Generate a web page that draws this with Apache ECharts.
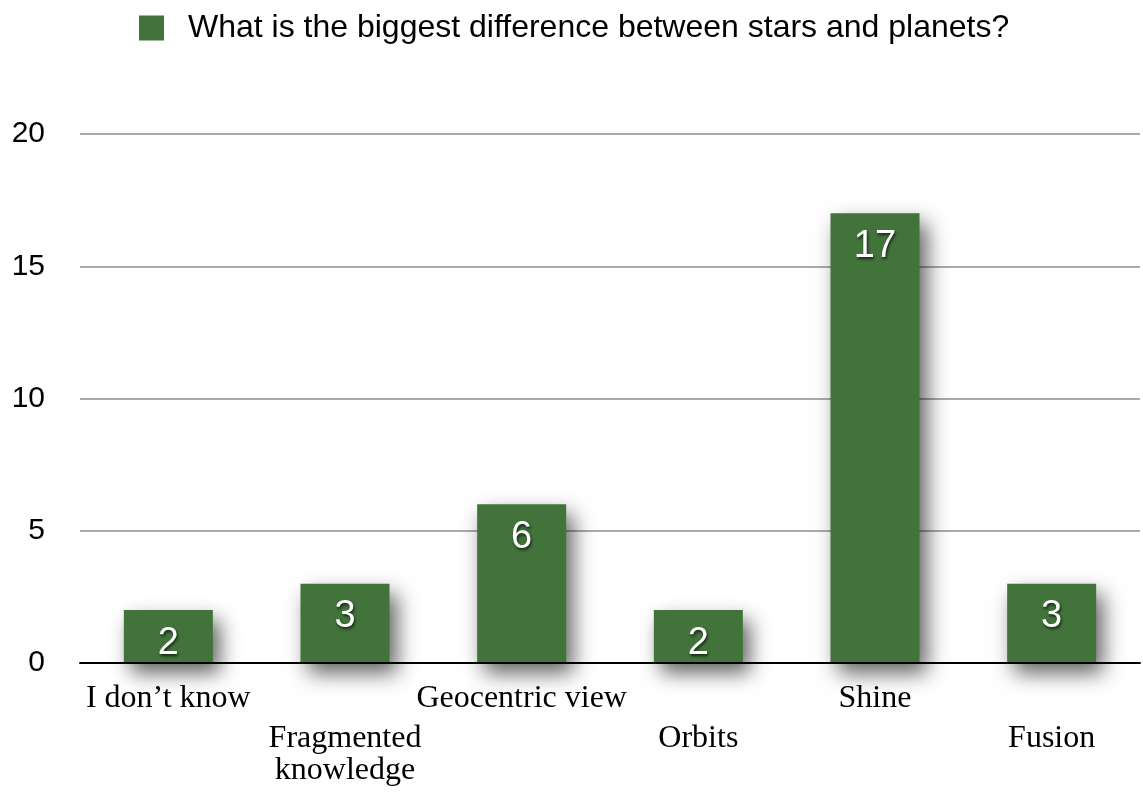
<!DOCTYPE html>
<html>
<head>
<meta charset="utf-8">
<style>
  html, body { margin: 0; padding: 0; background: #fff; }
  #chart { width: 1143px; height: 792px; }
</style>
<script src="https://cdn.jsdelivr.net/npm/echarts@6/dist/echarts.min.js"></script>
</head>
<body>
<div id="chart"></div>
<script>
// Answers to the survey question, one bar per category
const seriesName = 'What is the biggest difference between stars and planets?';
const categories = ['I don’t know', 'Fragmented\nknowledge', 'Geocentric view', 'Orbits', 'Shine', 'Fusion'];
const counts = [2, 3, 6, 2, 17, 3];
const yTicks = { min: 0, max: 20, interval: 5 };

const barColor = '#41733a';
const chart = echarts.init(document.getElementById('chart'));

// Alternate category labels between an upper and a lower row
function categoryLabel(value, index) {
  const lines = value.split('\n').map(ln => '{t|' + ln + '}');
  if (index % 2) lines.unshift('{gap| }');
  return lines.join('\n');
}

chart.setOption({
  animation: false,
  legend: {
    data: [seriesName],
    left: 139,
    top: 12,
    padding: 0,
    itemWidth: 25,
    itemHeight: 25,
    icon: 'rect',
    textStyle: { fontFamily: 'Liberation Sans', fontSize: 32, color: '#000', padding: [0, 0, 0, 19] }
  },
  grid: { left: 80, right: 3, top: 134, bottom: 129, containLabel: false },
  xAxis: {
    type: 'category',
    data: categories,
    z: 5,
    axisLine: { show: true, lineStyle: { color: '#000', width: 2 } },
    axisTick: { show: false },
    axisLabel: {
      interval: 0,
      margin: 20,
      color: '#000',
      fontFamily: 'Liberation Serif',
      fontSize: 32,
      formatter: categoryLabel,
      rich: {
        t: { fontFamily: 'Liberation Serif', fontSize: 32, lineHeight: 32, color: '#000' },
        gap: { fontFamily: 'Liberation Serif', fontSize: 32, lineHeight: 40, color: '#000' }
      }
    }
  },
  yAxis: {
    type: 'value',
    min: yTicks.min,
    max: yTicks.max,
    interval: yTicks.interval,
    axisLine: { show: false },
    axisTick: { show: false },
    axisLabel: { margin: 35, color: '#000', fontFamily: 'Liberation Sans', fontSize: 30 },
    splitLine: { lineStyle: { color: '#aaaaaa', width: 2 } }
  },
  series: [{
    name: seriesName,
    type: 'bar',
    data: counts,
    barWidth: 89,
    itemStyle: {
      color: barColor,
      shadowColor: 'rgba(0,0,0,0.62)',
      shadowBlur: 20,
      shadowOffsetX: 7,
      shadowOffsetY: 10
    },
    label: {
      show: true,
      position: 'insideTop',
      distance: 14,
      color: '#fff',
      fontFamily: 'Liberation Sans',
      fontSize: 38,
      textShadowColor: 'rgba(0,0,0,0.7)',
      textShadowBlur: 3,
      textShadowOffsetX: 1,
      textShadowOffsetY: 2
    }
  }]
});
</script>
</body>
</html>
